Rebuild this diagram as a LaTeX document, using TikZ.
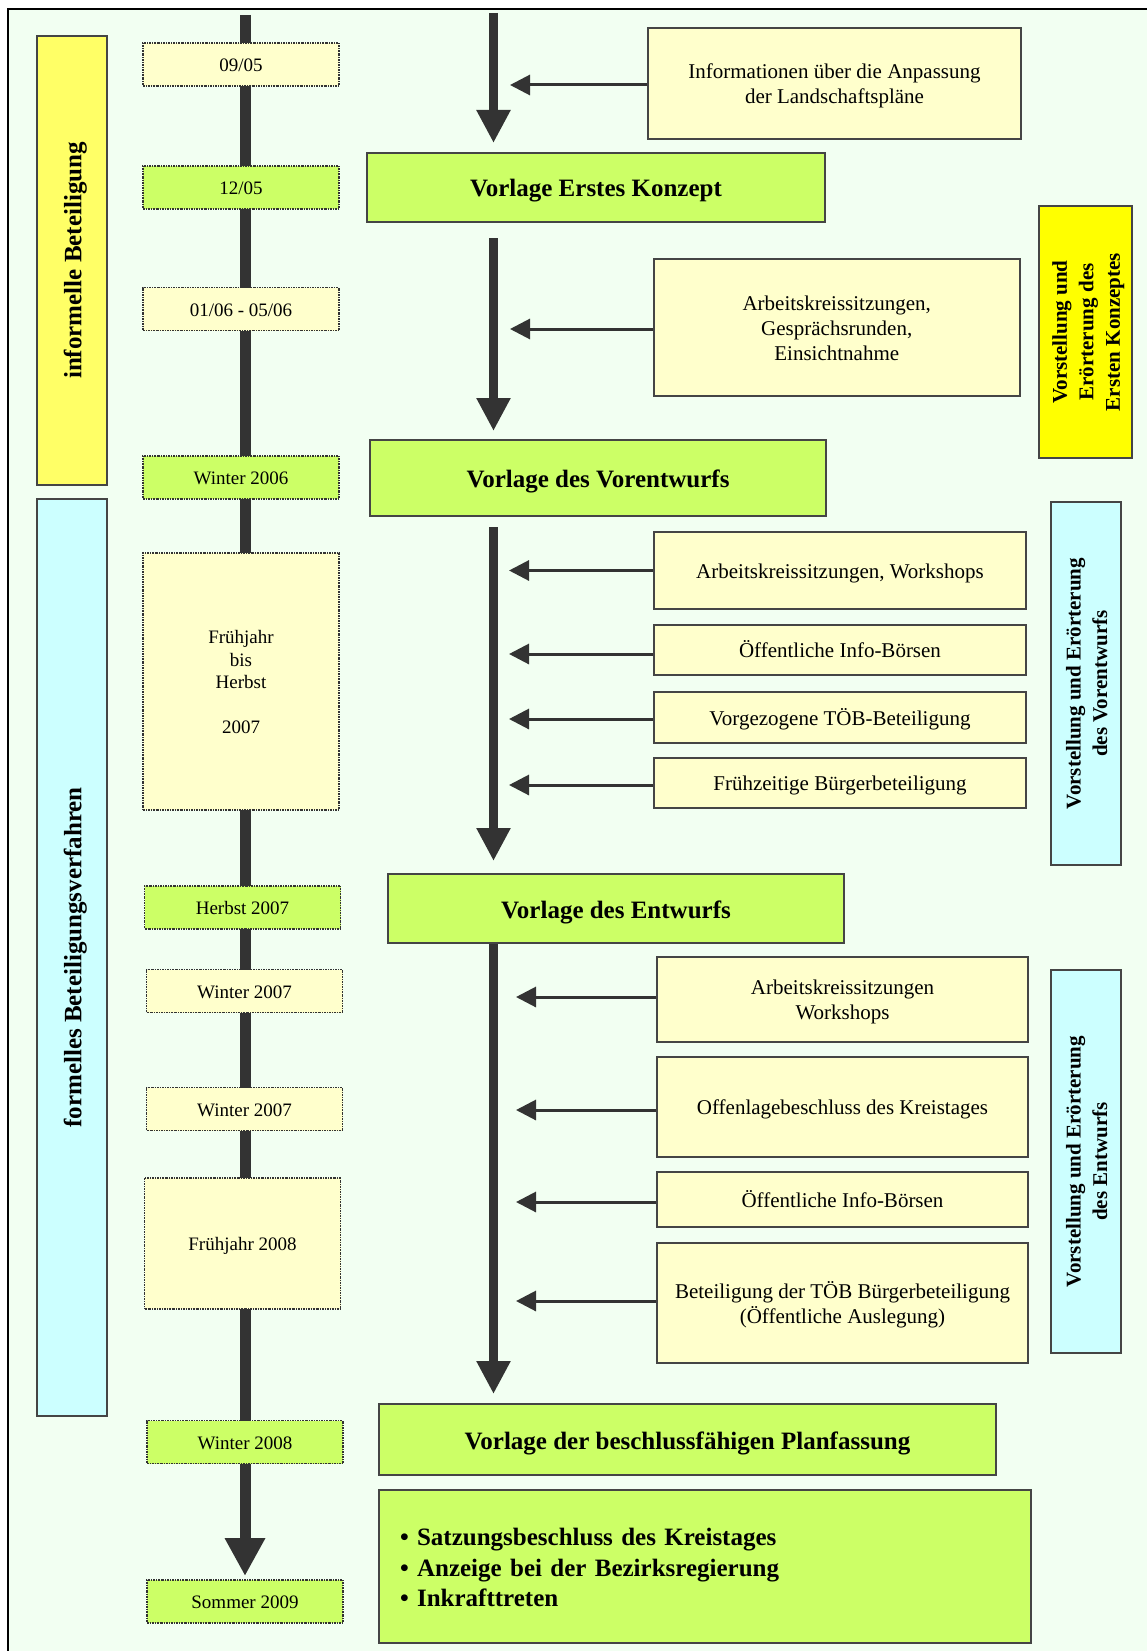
\documentclass[tikz,border=0pt]{standalone}
\usepackage{fontspec}
\setmainfont{Liberation Serif}
\usetikzlibrary{arrows.meta}
\definecolor{ly}{HTML}{FFFFCC}
\definecolor{gr}{HTML}{CCFF66}
\definecolor{yl}{HTML}{FFFF66}
\definecolor{ye}{HTML}{FFFF00}
\definecolor{cy}{HTML}{CCFFFF}
\definecolor{bg}{HTML}{F2FFF2}
\definecolor{dk}{HTML}{333333}
\definecolor{bd}{HTML}{454545}
\newcommand\T{\vrule height .98em depth 0pt width 0pt}
\newcommand\B{\vrule height 0pt depth .22em width 0pt}
\tikzset{
  every node/.style={inner sep=0pt},
  txt/.style={execute at begin node=\T, execute at end node=\B},
  datebox/.style={draw=dk, line width=1.2pt, dash pattern=on 2pt off 1pt on 0.8pt off 1pt,
    minimum width=196pt, minimum height=43pt, font=\fontsize{19}{22.5}\selectfont, align=center},
  dateY/.style={datebox, txt, fill=ly},
  dateG/.style={datebox, txt, fill=gr},
  dateYm/.style={datebox, fill=ly},
  infobox/.style={draw=bd, line width=2pt, fill=ly, font=\fontsize{21}{25}\selectfont, align=center},
  infoone/.style={infobox, txt},
  mainbox/.style={txt, draw=bd, line width=2pt, fill=gr, font=\fontsize{25}{30.5}\selectfont\bfseries, align=center},
  leftbar/.style={txt, draw=bd, line width=2pt, rotate=90, font=\fontsize{25}{30}\selectfont\bfseries, align=center},
  sidebar/.style={draw=bd, line width=2pt, rotate=90, font=\fontsize{21}{26.5}\selectfont\bfseries, align=center},
  timeline/.style={draw=dk, line width=11pt, -{Triangle[length=38pt,width=38pt]}},
  bigarrow/.style={draw=dk, line width=9.5pt, -{Triangle[length=33pt,width=32pt]}},
  thinarrow/.style={draw=dk, line width=3pt, -{Triangle[length=20pt,width=20pt]}}
}
\begin{document}
\begin{tikzpicture}[x=1pt,y=-1pt]
\useasboundingbox (0,0) rectangle (1146,1651);
\fill[white] (0,0) rectangle (1146,1651);
\draw[black, line width=2.5pt, fill=bg] (8,9) rectangle (1175,1675);

% left bars
\node[leftbar, fill=yl, minimum width=449pt, minimum height=70pt] (inf) at (72,260.5) {informelle Beteiligung};
\node[leftbar, fill=cy, minimum width=917pt, minimum height=70pt] (form) at (72,957.5) {formelles Beteiligungsverfahren};

% timeline
\coordinate (tltop) at (245,15);
\coordinate (tlend) at (245,1576);
\draw[timeline] (tltop) -- (tlend);

% dates
\node[dateY] (d1) at (241,64.5) {09/05};
\node[dateG] (d2) at (241,187.5) {12/05};
\node[dateY] (d3) at (241,309) {01/06 - 05/06};
\node[dateG] (d4) at (241,477.5) {Winter 2006};
\node[dateYm, minimum height=257pt] (d5) at (241,681.5) {\T Frühjahr\\bis\\Herbst\\[22.5pt]2007\B};
\node[dateG] (d6) at (242.5,907.5) {Herbst 2007};
\node[dateY] (d7) at (244.5,991) {Winter 2007};
\node[dateY] (d8) at (244.5,1109) {Winter 2007};
\node[dateY, minimum height=131pt] (d9) at (242.5,1243.5) {Frühjahr 2008};
\node[dateG] (d10) at (245,1442) {Winter 2008};
\node[dateG] (d11) at (245,1601.5) {Sommer 2009};

% main boxes
\node[mainbox, minimum width=458pt, minimum height=69pt] (m1) at (596,187.5) {Vorlage Erstes Konzept};
\node[mainbox, minimum width=456pt, minimum height=76pt] (m2) at (598,478) {Vorlage des Vorentwurfs};
\node[mainbox, minimum width=456pt, minimum height=69pt] (m3) at (616,908.5) {Vorlage des Entwurfs};
\node[mainbox, minimum width=617pt, minimum height=71pt] (m4) at (687.5,1439.5) {Vorlage der beschlussfähigen Planfassung};
\node[mainbox, align=left, text width=610pt, inner xsep=21pt, minimum height=153pt] (m5) at (705,1566.5)
  {• Satzungsbeschluss des Kreistages\\• Anzeige bei der Bezirksregierung\\• Inkrafttreten};

% central arrows
\coordinate (cx) at (493.5,0);
\coordinate (c0) at (493.5,13);
\draw[bigarrow, shorten >=9pt] (c0) -- (c0 |- m1.north);
\draw[bigarrow, shorten <=15pt, shorten >=8pt] (cx |- m1.south) -- (cx |- m2.north);
\draw[bigarrow, shorten <=10pt, shorten >=12pt] (cx |- m2.south) -- (cx |- m3.north);
\draw[bigarrow, shorten >=9pt] (cx |- m3.south) -- (cx |- m4.north);

% right info boxes
\node[infobox, minimum width=373pt, minimum height=111pt] (r1) at (834.5,83.5) {\T Informationen über die Anpassung\\der Landschaftspläne\B};
\node[infobox, minimum width=365.5pt, minimum height=137pt] (r2) at (836.75,327.5) {\T Arbeitskreissitzungen,\\Gesprächsrunden,\\Einsichtnahme\B};
\node[infoone, minimum width=372pt, minimum height=77pt] (r3) at (840,570.5) {Arbeitskreissitzungen, Workshops};
\node[infoone, minimum width=372pt, minimum height=50pt] (r4) at (840,650) {Öffentliche Info-Börsen};
\node[infoone, minimum width=372pt, minimum height=51pt] (r5) at (840,717.5) {Vorgezogene TÖB-Beteiligung};
\node[infoone, minimum width=372pt, minimum height=50pt] (r6) at (840,783) {Frühzeitige Bürgerbeteiligung};
\node[infobox, minimum width=371pt, minimum height=85pt] (r7) at (842.5,999.5) {\T Arbeitskreissitzungen\\Workshops\B};
\node[infoone, minimum width=371pt, minimum height=100pt] (r8) at (842.5,1107) {Offenlagebeschluss des Kreistages};
\node[infoone, minimum width=371pt, minimum height=55pt] (r9) at (842.5,1199.5) {Öffentliche Info-Börsen};
\node[infobox, minimum width=371pt, minimum height=120pt] (r10) at (842.5,1303) {\T Beteiligung der TÖB Bürgerbeteiligung\\(Öffentliche Auslegung)\B};

% thin arrows
\coordinate (ta) at (510,0);
\coordinate (tb) at (509,0);
\coordinate (tc) at (516,0);
\draw[thinarrow] ([yshift=-1.5pt]r1.west) -- ([yshift=-1.5pt]r1.west -| ta);
\draw[thinarrow] ([yshift=-1.5pt]r2.west) -- ([yshift=-1.5pt]r2.west -| ta);
\draw[thinarrow] (r3.west) -- (r3.west -| tb);
\draw[thinarrow] ([yshift=-4pt]r4.west) -- ([yshift=-4pt]r4.west -| tb);
\draw[thinarrow] ([yshift=-1.5pt]r5.west) -- ([yshift=-1.5pt]r5.west -| tb);
\draw[thinarrow] ([yshift=-2pt]r6.west) -- ([yshift=-2pt]r6.west -| tb);
\draw[thinarrow] ([yshift=2.5pt]r7.west) -- ([yshift=2.5pt]r7.west -| tc);
\draw[thinarrow] ([yshift=-3pt]r8.west) -- ([yshift=-3pt]r8.west -| tc);
\draw[thinarrow] ([yshift=-2.5pt]r9.west) -- ([yshift=-2.5pt]r9.west -| tc);
\draw[thinarrow] ([yshift=2pt]r10.west) -- ([yshift=2pt]r10.west -| tc);

% right side bars
\node[sidebar, fill=ye, minimum width=252pt, minimum height=93pt] (v1) at (1085.5,332) {\T Vorstellung und\\Erörterung des\\Ersten Konzeptes\B};
\node[sidebar, fill=cy, minimum width=363pt, minimum height=70pt] (v2) at (1086,683.5) {\T Vorstellung und Erörterung\\des Vorentwurfs\B};
\node[sidebar, fill=cy, minimum width=383pt, minimum height=70pt] (v3) at (1086,1161.5) {\T Vorstellung und Erörterung\\des Entwurfs\B};
\end{tikzpicture}
\end{document}
